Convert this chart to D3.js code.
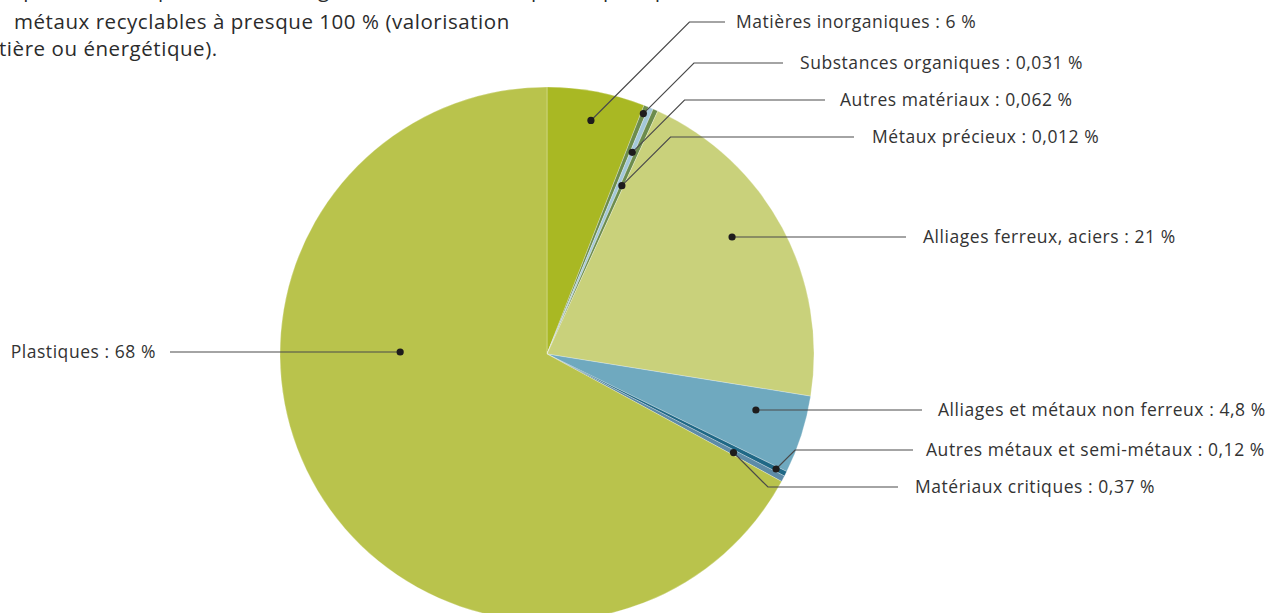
<!DOCTYPE html>
<html>
<head>
<meta charset="utf-8">
<script src="https://cdn.jsdelivr.net/npm/d3@7"></script>
<style>
  body { margin: 0; background: #fff; overflow: hidden; }
  svg { display: block; }
  text { font-family: "Open Sans", "Noto Sans", sans-serif; fill: #333; }
</style>
</head>
<body>
<svg id="chart" width="1274" height="613"></svg>
<script>
// slices, clockwise from 12 o'clock
var categories = ['Matières inorganiques', 'Substances organiques', 'Autres matériaux', 'Métaux précieux',
    'Alliages ferreux, aciers', 'Alliages et métaux non ferreux', 'Autres métaux et semi-métaux',
    'Matériaux critiques', 'Plastiques'];
var shares = [6, 0.031, 0.062, 0.012, 21, 4.8, 0.12, 0.37, 68];
var shareLabels = ['6', '0,031', '0,062', '0,012', '21', '4,8', '0,12', '0,37', '68'];
var sliceColors = ['#a9b823', '#6c8c4d', '#a4c8d9', '#6c8c4d', '#c9d17b', '#6fa9bf', '#1f6886', '#5d8ba7', '#b9c34c'];

var introLines = [
    "Le produit n'est pas difficile à organiser car il est composé à presque 100 % de",
    'métaux recyclables à presque 100 % (valorisation',
    'tière ou énergétique).'
];
var introX = [-6, 14, -1];
var introY = [-3, 29, 56];

// label placement (layout only): dot radius factor, line y, line end x, text x
var labelLayout = [
    { rf: 0.89, ly: 22,  lx: 725, tx: 736 },
    { rf: 0.97, ly: 63,  lx: 783, tx: 800 },
    { rf: 0.82, ly: 100, lx: 825, tx: 840 },
    { rf: 0.69, ly: 137, lx: 854, tx: 872 },
    { rf: 0.82, ly: 237, lx: 906, tx: 923, flat: true },
    { rf: 0.81, ly: 410, lx: 922, tx: 938, flat: true },
    { rf: 0.96, ly: 450, lx: 913, tx: 926, flat: true },
    { rf: 0.79, ly: 487, lx: 898, tx: 915 },
    { rf: 0.55, ly: 352, lx: 170, tx: 156, flat: true, left: true }
];

var cx = 547, cy = 354, radius = 267;
var minShare = 0.3;   // keep the tiny slices visible

var svg = d3.select('#chart');

// cut-off intro paragraph at the top left
svg.append('g')
    .selectAll('text')
    .data(introLines)
    .enter().append('text')
    .attr('x', function(d, i) { return introX[i]; })
    .attr('y', function(d, i) { return introY[i]; })
    .style('font-size', '20.5px')
    .style('letter-spacing', '0.55px')
    .style('fill', '#2b2b2b')
    .text(function(d) { return d; });

var pie = d3.pie()
    .sort(null)
    .value(function(d) { return Math.max(d, minShare); });

var arcs = pie(shares);

var arc = d3.arc().innerRadius(0).outerRadius(radius);

var g = svg.append('g').attr('transform', 'translate(' + cx + ',' + cy + ')');

g.selectAll('path')
    .data(arcs)
    .enter().append('path')
    .attr('d', arc)
    .attr('fill', function(d, i) { return sliceColors[i]; })
    .attr('stroke', 'rgba(255,255,255,0.45)')
    .attr('stroke-width', 0.6);

var labels = svg.append('g');

function polar(ang, r) {
    return [cx + r * Math.sin(ang), cy - r * Math.cos(ang)];
}

arcs.forEach(function(a, i) {
    var lay = labelLayout[i];
    var r = radius * lay.rf;
    var ly = lay.ly;
    var dot = null;

    // straight leader: put the dot where the label row crosses the slice
    if (lay.flat && Math.abs(ly - cy) < r) {
        var off = Math.sqrt(r * r - (ly - cy) * (ly - cy));
        var x = lay.left ? cx - off : cx + off;
        var ang = Math.atan2(x - cx, cy - ly);
        if (ang < 0) ang += 2 * Math.PI;
        if (ang >= a.startAngle && ang <= a.endAngle) dot = [x, ly];
    }

    var pts;
    if (dot) {
        pts = [dot, [lay.lx, ly]];
    } else {
        dot = polar((a.startAngle + a.endAngle) / 2, r);
        var ex = dot[0] + Math.abs(dot[1] - ly);
        pts = [dot, [ex, ly], [lay.lx, ly]];
    }

    labels.append('path')
        .attr('d', d3.line()(pts))
        .attr('fill', 'none')
        .attr('stroke', '#4a4a4a')
        .attr('stroke-width', 1.2);

    labels.append('circle')
        .attr('cx', dot[0])
        .attr('cy', dot[1])
        .attr('r', 3.6)
        .attr('fill', '#1e1c1c');

    labels.append('text')
        .attr('x', lay.tx)
        .attr('y', ly)
        .attr('dy', '0.36em')
        .attr('text-anchor', lay.left ? 'end' : 'start')
        .style('font-size', '17.5px')
        .style('letter-spacing', '0.55px')
        .text(categories[i] + ' : ' + shareLabels[i] + ' %');
});
</script>
</body>
</html>
